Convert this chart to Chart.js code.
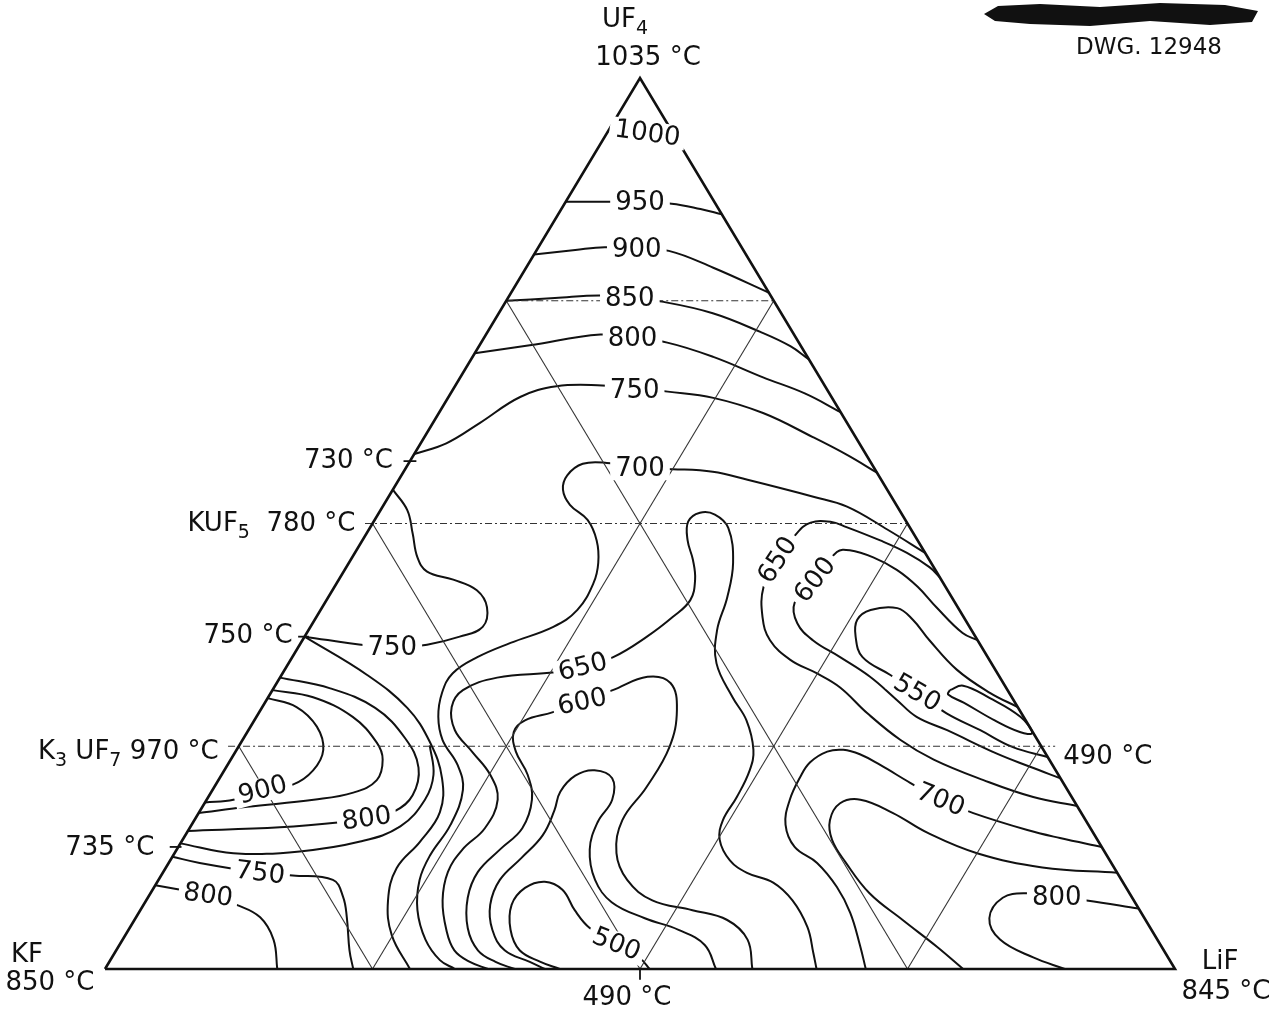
<!DOCTYPE html>
<html>
<head>
<meta charset="utf-8">
<script src="https://cdn.jsdelivr.net/npm/chart.js@4.4.1/dist/chart.umd.min.js"></script>
<style>
  html, body { margin: 0; background: #fff; }
  canvas { display: block; }
</style>
</head>
<body>
<canvas id="ternary" width="1287" height="1016"></canvas>
<script>
// every point is [LiF mol %, UF4 mol %]; KF is what is left
// liquidus isotherms, upper UF4-rich part
const iso950 = [[0,86.1],[4.2,86.1],[7.0,86.0],[10.0,85.9],[13.0,85.3],[15.3,84.7]];
const iso900 = [[0,80.2],[3.6,80.7],[6.2,81.0],[9.3,80.8],[12.4,80.6],[17.5,78.7],[24.1,75.9]];
const iso850 = [[0,75.0],[4.4,75.3],[8.4,75.6],[11.4,75.3],[14.6,74.9],[20.0,73.6],[25.5,71.5],[29.1,69.9],[31.6,68.4]];
const iso800 = [[0,69.1],[4.7,70.0],[10.7,71.2],[13.9,70.8],[17.4,70.3],[22.5,68.7],[28.3,66.4],[33.1,64.6],[37.5,62.5]];
const iso750 = [[0,57.8],[2.4,59.0],[4.4,61.3],[6.7,64.2],[9.5,65.4],[13.7,65.5],[16.9,65.2],[20.2,64.8],[24.8,64.1],[30.3,62.4],[36.3,59.7],[40.5,57.7],[44.3,55.7]];
const iso700 = [[53.3,46.7],[48.5,49.3],[43.4,51.9],[39.7,53.0],[32.6,54.9],[28.9,55.8],[25.0,56.1],[21.9,56.2],[18.5,56.8],[16.3,56.7],[15.5,55.4],[15.9,53.8],[17.4,52.1],[19.9,50.4],[21.9,48.1],[23.3,45.6],[24.0,43.3],[24.0,40.3],[22.7,38.4],[19.6,36.6],[17.3,35.0],[15.9,33.2],[16.0,31.0],[17.0,28.3],[18.7,25.7],[21.5,22.9],[23.4,20.1],[24.2,16.2],[24.0,12.8],[24.4,10.0],[25.9,6.6],[28.3,3.3],[30.8,1.0],[32.7,0]];

// KF-rich side
const iso750mid = [[0,53.8],[2.5,51.5],[4.3,48.9],[6.1,46.2],[7.8,44.6],[10.7,43.7],[13.5,42.5],[15.4,40.6],[16.1,38.4],[14.5,37.3],[11.9,36.4],[9.0,36.1],[6.4,36.3],[0,37.3]];
const iso750a = [[0,37.3],[8.0,33.0],[13.6,29.3],[17.6,25.5],[20.8,21.4],[22.5,17.6],[22.3,14.3],[21.6,11.3],[22.6,7.7],[24.9,3.8],[28.5,0]];
const iso750e = [[0,14.1],[5.5,13.0],[11.6,13.2],[16.7,14.3],[19.6,16.0],[20.4,19.0],[19.8,21.8],[17.8,25.1]];
const iso800k = [[0,32.7],[5.3,31.5],[10.6,29.3],[15.1,25.9],[18.0,22.6],[19.0,19.5],[18.2,17.7],[16.0,16.9],[14.0,16.5],[8.4,15.9],[0,15.5]];
const iso850k = [[0,31.3],[4.2,30.5],[9.0,28.3],[12.7,25.4],[14.2,23.5],[14.8,21.2],[13.3,19.8],[10.0,19.0],[4.2,18.2],[0,17.5]];
const iso900k = [[0,30.4],[3.2,29.4],[6.2,27.2],[8.1,24.6],[8.3,22.3],[7.2,20.7],[4.7,20.1],[2.5,19.0],[0,18.7]];
const iso800kf = [[0,9.4],[2.6,8.9],[5.5,8.3],[8.7,7.2],[11.6,5.8],[14.1,3.3],[16.1,0]];
const iso750kf = [[0,12.6],[2.9,11.9],[9.1,10.8],[12.3,10.5],[16.3,10.0],[18.2,8.1],[19.7,5.8],[21.8,2.1],[23.2,0]];

// central valley down to the KF-LiF eutectic
const iso650c = [[35.8,0],[33.7,0.8],[31.6,2.1],[29.7,4.4],[27.7,7.7],[26.6,10.9],[26.7,13.4],[27.6,15.8],[27.2,19.0],[25.1,21.8],[22.1,24.4],[19.3,26.8],[17.7,29.4],[17.8,31.3],[20.3,32.7],[25.4,33.3],[27.7,33.9],[30.0,35.0],[32.0,37.3],[33.3,39.5],[34.0,41.4],[33.3,43.7],[32.0,45.9],[30.4,48.1],[29.4,50.2],[30.0,51.2],[31.5,51.0],[33.5,49.5],[35.9,45.6],[37.3,41.7],[38.2,38.0],[40.0,34.3],[43.4,30.5],[46.0,27.9],[48.3,24.6],[49.1,22.3],[49.4,19.3],[49.4,16.7],[50.2,14.5],[52.3,12.2],[54.6,10.8],[57.6,9.7],[60.4,7.7],[63.3,4.7],[65.3,1.8],[66.5,0]];
const iso600c = [[38.3,0],[36.1,0.8],[33.8,2.1],[31.6,4.6],[29.9,8.0],[29.4,10.9],[30.2,13.4],[31.1,15.8],[30.4,19.0],[28.6,21.8],[26.2,24.4],[24.9,26.6],[25.3,27.9],[27.4,28.8],[29.6,30.0],[31.8,31.3],[34.3,32.8],[36.8,32.1],[38.9,29.1],[40.3,24.9],[40.4,20.4],[40.0,16.7],[41.3,13.0],[43.8,10.0],[47.3,7.7],[51.6,6.6],[55.4,5.5],[58.4,3.3],[60.5,0]];
const iso550c = [[41.1,0],[39.3,0.8],[36.3,2.1],[34.0,4.4],[32.4,7.2],[31.9,10.0],[32.7,12.5],[33.4,15.0],[33.1,17.8],[32.6,19.9],[33.1,21.7],[34.6,22.3],[36.7,21.4],[37.9,19.0],[37.8,16.5],[38.6,13.4],[40.8,10.0],[43.6,7.5],[47.6,5.7],[51.4,4.4],[54.7,2.7],[57.1,0]];
const iso500c = [[42.5,0],[40.3,0.8],[37.7,2.1],[35.7,4.4],[34.4,7.2],[34.7,9.1],[36.2,9.8],[38.3,8.9],[40.6,6.6],[43.0,4.6],[46.4,2.8],[49.4,1.2],[50.9,0]];

// LiF side: trough towards the 490 °C eutectic on the LiF-UF4 edge
const iso650r = [[56.0,44.0],[54.5,45.1],[51.6,46.7],[48.4,48.1],[44.5,49.6],[42.7,50.2],[40.9,50.1],[40.2,48.9],[39.9,45.9],[40.1,42.9],[41.7,39.5],[43.7,36.9],[46.7,34.7],[49.9,33.2],[52.9,31.6],[56.9,28.7],[61.5,25.7],[65.7,23.5],[71.5,21.2],[77.1,19.3],[81.7,18.3]];
const iso600r = [[63.1,36.9],[61.3,37.7],[57.4,40.6],[54.5,42.9],[51.6,44.8],[48.7,46.2],[46.1,47.0],[45.0,46.8],[44.5,43.7],[43.9,41.1],[45.3,38.8],[47.7,36.9],[51.2,35.0],[55.1,32.8],[58.9,30.2],[61.7,28.3],[65.3,26.8],[71.2,24.2],[75.1,22.7],[78.6,21.4]];
const iso550r = [[70.6,29.4],[67.2,31.0],[62.8,33.6],[58.6,36.9],[55.9,39.2],[53.8,40.5],[51.4,40.3],[50.7,39.2],[51.5,37.3],[53.3,35.0],[56.9,33.0],[60.4,31.0],[64.3,28.7],[68.4,26.8],[72.4,24.9],[76.2,23.8]];
const iso500r = [[63.3,31.3],[64.3,31.8],[67.5,30.4],[71.4,28.3],[73.4,26.5],[72.2,26.6],[69.2,27.9],[65.3,29.9],[63.4,30.8],[63.3,31.3]];
const iso700r = [[86.3,13.7],[81.9,14.7],[78.4,15.6],[72.4,17.5],[68.6,19.0],[64.8,20.9],[61.0,22.9],[58.5,24.1],[56.7,24.6],[55.3,24.4],[54.3,23.2],[54.2,21.5],[54.5,19.0],[55.5,16.2],[57.6,13.7],[60.6,11.9],[63.8,9.2],[66.5,6.3],[69.2,2.7],[71.1,0]];
const iso750r = [[89.2,10.8],[81.9,11.4],[75.0,13.0],[69.2,15.3],[64.9,17.5],[61.1,19.0],[59.4,18.6],[59.4,16.7],[60.7,14.5],[63.2,12.0],[67.2,8.5],[71.8,5.5],[76.5,2.5],[80.2,0]];
const iso800r = [[93.2,6.8],[87.9,7.7],[84.9,8.1],[81.9,8.5],[79.9,8.0],[79.8,5.7],[82.0,3.3],[86.1,1.3],[89.7,0]];

// frame, compound joins and edge ticks
const frame = [[0,0],[100,0],[0,100],[0,0]];
const joinsSolid = [
  [[0,75],[75,0]], [[25,75],[25,0]],
  [[0,50],[50,0]], [[50,50],[50,0]],
  [[0,25],[25,0]], [[75,25],[75,0]]
];
const joinsDashed = [
  [[0,75],[25,75]],
  [[-0.7,50],[50,50]],
  [[-1.0,25],[76.3,25]]
];
const ticks = [
  [[-0.6,57.0],[0.6,57.0]],
  [[-0.6,37.3],[0.4,37.3]],
  [[-0.8,13.7],[0.3,13.7]],
  [[50.6,-1.2],[50.0,0]]
];

// isotherm labels: text, LiF, UF4, tilt in degrees
const isoLabels = [
  ['1000',3.8,93.8,8], ['950',7.0,86.0,0], ['900',9.3,80.8,0], ['850',11.4,75.3,0],
  ['800',13.9,70.8,0], ['750',17.0,65.0,0], ['700',21.9,56.2,0], ['750',8.8,36.1,0],
  ['650',27.7,33.9,-14], ['600',29.6,30.0,-12], ['650',39.9,45.9,-57], ['600',44.5,43.7,-52],
  ['550',60.4,31.0,30], ['700',68.6,19.0,22], ['800',84.9,8.1,0], ['900',4.7,20.1,-15],
  ['800',16.0,16.9,-8], ['750',9.1,10.8,7], ['800',5.5,8.3,8], ['500',46.4,2.8,22]
];

const contours = [iso950, iso900, iso850, iso800, iso750, iso700,
  iso750mid, iso750a, iso750e, iso800k, iso850k, iso900k, iso800kf, iso750kf,
  iso650c, iso600c, iso550c, iso500c,
  iso650r, iso600r, iso550r, iso500r, iso700r, iso750r, iso800r];

// ternary -> plane (x along KF-LiF, y = UF4)
function toXY(p) { return { x: p[0] + p[1] / 2, y: p[1] }; }

function lineSet(pts, extra) {
  return Object.assign({
    data: pts.map(toXY),
    showLine: true,
    pointRadius: 0,
    borderColor: '#111',
    backgroundColor: '#111',
    borderWidth: 2,
    tension: 0.4,
    fill: false,
    clip: false
  }, extra || {});
}

const datasets = [];
datasets.push(lineSet(frame, { borderWidth: 2.6, tension: 0 }));
joinsSolid.forEach(s => datasets.push(lineSet(s, { borderWidth: 1.1, tension: 0, borderColor: '#333' })));
joinsDashed.forEach(s => datasets.push(lineSet(s, { borderWidth: 1.1, tension: 0, borderColor: '#333', borderDash: [7, 3, 2, 3] })));
ticks.forEach(s => datasets.push(lineSet(s, { borderWidth: 1.8, tension: 0 })));
contours.forEach(c => datasets.push(lineSet(c)));

function drawParts(ctx, parts, x, y, align) {
  const big = '26px "DejaVu Sans"', small = '19px "DejaVu Sans"';
  let total = 0;
  parts.forEach(p => { ctx.font = p[1] ? small : big; total += ctx.measureText(p[0]).width; });
  let cx = align === 'right' ? x - total : align === 'center' ? x - total / 2 : x;
  ctx.textAlign = 'left';
  parts.forEach(p => {
    ctx.font = p[1] ? small : big;
    ctx.fillText(p[0], cx, p[1] ? y + 9 : y);
    cx += ctx.measureText(p[0]).width;
  });
}

// corner and edge names: parts, anchor LiF, anchor UF4, dx, dy, align
const edgeNames = [
  [[['UF',0],['4',1]], 0, 100, -15, -58, 'center'],
  [[['1035 °C',0]], 0, 100, 8, -20, 'center'],
  [[['730 °C',0]], 0, 57.0, -17, 0, 'right'],
  [[['KUF',0],['5',1],['  780 °C',0]], 0, 50, -17, 1, 'right'],
  [[['750 °C',0]], 0, 37.3, -12, 0, 'right'],
  [[['K',0],['3',1],[' UF',0],['7',1],[' 970 °C',0]], 0, 25, -20, 6, 'right'],
  [[['735 °C',0]], 0, 13.7, -24, 1, 'right'],
  [[['KF',0]], 0, 0, -78, -14, 'center'],
  [[['850 °C',0]], 0, 0, -55, 14, 'center'],
  [[['LiF',0]], 100, 0, 45, -7, 'center'],
  [[['845 °C',0]], 100, 0, 51, 23, 'center'],
  [[['490 °C',0]], 50, 0, -13, 29, 'center'],
  [[['490 °C',0]], 75, 25, 22, 11, 'left']
];

const textPlugin = {
  id: 'diagramText',
  afterDatasetsDraw(chart) {
    const ctx = chart.ctx;
    const xs = chart.scales.x, ys = chart.scales.y;
    const at = (L, U) => [xs.getPixelForValue(L + U / 2), ys.getPixelForValue(U)];
    ctx.save();
    ctx.textBaseline = 'middle';

    // isotherm values break the lines they sit on
    ctx.font = '26px "DejaVu Sans"';
    isoLabels.forEach(([t, L, U, a]) => {
      const [x, y] = at(L, U);
      ctx.save();
      ctx.translate(x, y);
      ctx.rotate(a * Math.PI / 180);
      const w = ctx.measureText(t).width;
      ctx.fillStyle = '#fff';
      ctx.fillRect(-w / 2 - 5, -12, w + 10, 24);
      ctx.fillStyle = '#111';
      ctx.textAlign = 'center';
      ctx.fillText(t, 0, 1);
      ctx.restore();
    });

    ctx.fillStyle = '#111';
    edgeNames.forEach(([parts, L, U, dx, dy, align]) => {
      const [x, y] = at(L, U);
      drawParts(ctx, parts, x + dx, y + dy, align);
    });

    // drawing number, with the blacked-out stamp above it
    ctx.beginPath();
    ctx.moveTo(984, 14); ctx.lineTo(998, 6); ctx.lineTo(1040, 4); ctx.lineTo(1100, 7);
    ctx.lineTo(1160, 3); ctx.lineTo(1225, 5); ctx.lineTo(1258, 11); ctx.lineTo(1252, 22);
    ctx.lineTo(1210, 25); ctx.lineTo(1150, 21); ctx.lineTo(1090, 26); ctx.lineTo(1030, 24);
    ctx.lineTo(995, 21);
    ctx.closePath();
    ctx.fill();
    ctx.font = '23px "DejaVu Sans"';
    ctx.textAlign = 'right';
    ctx.fillText('DWG. 12948', 1222, 48);
    ctx.restore();
  }
};

new Chart(document.getElementById('ternary'), {
  type: 'scatter',
  data: { datasets: datasets },
  options: {
    responsive: false,
    animation: false,
    devicePixelRatio: 1,
    layout: { padding: { left: 105, right: 112, top: 78, bottom: 47 } },
    scales: {
      x: { type: 'linear', min: 0, max: 100, display: false },
      y: { type: 'linear', min: 0, max: 100, display: false }
    },
    plugins: {
      legend: { display: false },
      tooltip: { enabled: false }
    }
  },
  plugins: [textPlugin]
});
</script>
</body>
</html>
